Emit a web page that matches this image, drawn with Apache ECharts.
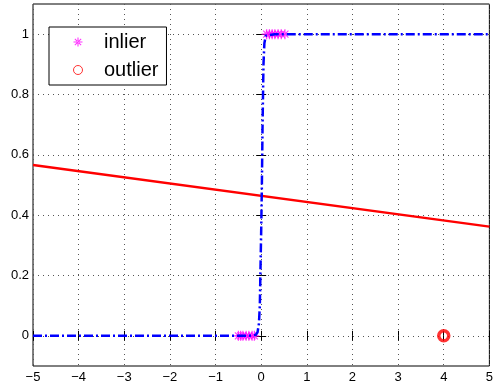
<!DOCTYPE html>
<html>
<head>
<meta charset="utf-8">
<script src="https://cdn.jsdelivr.net/npm/echarts@6/dist/echarts.min.js"></script>
<style>
	html,body{margin:0;padding:0;background:#fff;}
	#chart{width:496px;height:387px;}
</style>
</head>
<body>
<div id="chart"></div>
<script>
	// x ticks and y ticks
	var xTicks = [-5,-4,-3,-2,-1,0,1,2,3,4,5];
	var yTicks = [0,0.2,0.4,0.6,0.8,1];
	// inlier points (magenta stars)
	var inlierX = [-0.5,-0.45,-0.4,-0.33,-0.27,-0.2,-0.15,0.12,0.18,0.24,0.3,0.37,0.44,0.52];
	var inlierY = [0,0,0,0,0,0,0,1,1,1,1,1,1,1];
	// outlier
	var outlierX = [4];
	var outlierY = [0];
	// fitted logistic curve (blue dash-dot)
	var curveX = [-5,-0.3,-0.12,-0.08,-0.05,-0.03,0,0.015,0.03,0.05,0.07,0.1,0.3,5];
	var curveY = [0,0,0.003,0.012,0.04,0.1,0.35,0.5,0.7,0.9,0.97,0.995,1,1];
	// linear fit (red)
	var lineX = [-5,5];
	var lineY = [0.566,0.362];

	function pairs(xs,ys){
		var out = [];
		for(var i = 0; i < xs.length; i++){
			out.push([xs[i],ys[i]]);
		}
		return out;
	}
	function minus(v){
		return String(v).replace('-','\u2212');
	}

	var star = 'path://M-0.6,-5 h1.2 v10 h-1.2 Z M-5,-0.6 h10 v1.2 h-10 Z M-3.9,-3.1 L3.1,3.9 L3.9,3.1 L-3.1,-3.9 Z M3.9,-3.1 L-3.1,3.9 L-3.9,3.1 L3.1,-3.9 Z';
	var font = 'Liberation Sans';
	var gridLine = {show:true,lineStyle:{color:'#555',type:[1,4],width:1}};

	var chart = echarts.init(document.getElementById('chart'));
	chart.setOption({
		animation:false,
		textStyle:{fontFamily:font},
		grid:{left:33,top:4,right:5,bottom:21,show:true,borderColor:'#000',borderWidth:1},
		legend:{
			left:49,top:27,orient:'vertical',
			backgroundColor:'#fff',borderColor:'#000',borderWidth:1,
			padding:[5,8,5,24],itemGap:8,itemWidth:42,itemHeight:9,
			textStyle:{fontFamily:font,fontSize:20,color:'#000'},
			data:[{name:'inlier'},{name:'outlier',itemStyle:{borderWidth:1}}]
		},
		xAxis:[{
			type:'value',min:-5,max:5,interval:1,
			axisLine:{show:false},
			axisTick:{inside:true,length:5,lineStyle:{color:'#000'}},
			axisLabel:{color:'#000',fontSize:13,margin:5,formatter:minus},
			splitLine:gridLine
		},{
			type:'value',min:-5,max:5,interval:1,position:'top',
			axisLine:{show:false},
			axisTick:{inside:true,length:5,lineStyle:{color:'#000'}},
			axisLabel:{show:false},splitLine:{show:false}
		}],
		yAxis:[{
			type:'value',min:-0.1,max:1.1,
			axisLine:{show:false},
			axisTick:{inside:true,length:5,customValues:yTicks,lineStyle:{color:'#000'}},
			axisLabel:{color:'#000',fontSize:13,margin:4,customValues:yTicks},
			splitLine:gridLine
		},{
			type:'value',min:-0.1,max:1.1,position:'right',
			axisLine:{show:false},
			axisTick:{inside:true,length:5,customValues:yTicks,lineStyle:{color:'#000'}},
			axisLabel:{show:false},splitLine:{show:false}
		}],
		series:[{
			name:'inlier',type:'scatter',
			symbol:star,symbolSize:10,
			itemStyle:{color:'#ff00ff'},
			data:pairs(inlierX,inlierY),z:2
		},{
			name:'fit',type:'line',showSymbol:false,
			lineStyle:{color:'#ff0000',width:2.5},
			data:pairs(lineX,lineY),z:3
		},{
			name:'curve',type:'line',showSymbol:false,
			lineStyle:{color:'#0000ff',width:2.5,type:[9,3,2,3]},
			data:pairs(curveX,curveY),z:4
		},{
			name:'outlier',type:'scatter',
			symbol:'circle',symbolSize:10,
			itemStyle:{color:'rgba(255,255,255,0)',borderColor:'#ff0000',borderWidth:3.5},
			data:pairs(outlierX,outlierY),z:5
		}]
	});
</script>
</body>
</html>
